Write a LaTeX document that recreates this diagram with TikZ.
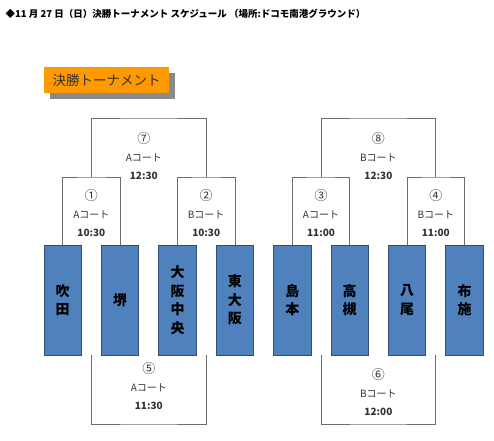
\documentclass[tikz,border=0pt]{standalone}
\usepackage{fontspec}
\setmainfont{Noto Sans CJK JP}
\usetikzlibrary{positioning, calc, shadows}

\definecolor{teamblue}{HTML}{4F81BD}
\definecolor{teamedge}{HTML}{2F4F75}
\definecolor{linegray}{HTML}{6E6E6E}
\definecolor{titleorange}{HTML}{FF9900}
\definecolor{shadowgray}{HTML}{8A8A8A}

\newcommand{\gameno}[1]{{\fontsize{13}{18}\selectfont #1}}

\begin{document}
\begin{tikzpicture}[
    x=1pt, y=1pt,
    team/.style={
        draw=teamedge,
        fill=teamblue,
        line width=0.7pt,
        minimum width=37.4pt,
        minimum height=110pt,
        inner sep=0pt,
        outer sep=0pt,
        align=center,
        font=\fontsize{14}{18.5}\selectfont\bfseries
    },
    bracket/.style={
        draw=linegray,
        line width=0.8pt
    },
    matchlabel/.style={
        align=center,
        inner sep=0pt,
        text=black!80,
        font=\fontsize{10}{18}\selectfont
    },
    titlebox/.style={
        fill=titleorange,
        minimum width=124.4pt,
        minimum height=26.6pt,
        inner sep=0pt,
        text=black!80,
        font=\fontsize{13.5}{16}\selectfont,
        drop shadow={shadow xshift=6pt, shadow yshift=-6pt, fill=shadowgray, opacity=1}
    }
]
    \useasboundingbox (0,0) rectangle (494,440);

    % Heading
    \node[anchor=west, inner sep=0pt, font=\fontsize{9.5}{11}\selectfont\bfseries] (heading) at (5.5,426)
        {◆11 月 27 日（日）決勝トーナメント スケジュール （場所:ドコモ南港グラウンド）};

    % Orange title
    \node[titlebox] (title) at (106.5,360) {決勝トーナメント};

    % Teams
    \node[team] (suita) at (62.7,140) {吹\\田};
    \node[team, right=20pt of suita] (sakai) {堺};
    \node[team, right=20pt of sakai] (osakachuo) {大\\阪\\中\\央};
    \node[team, right=20pt of osakachuo] (higashiosaka) {東\\大\\阪};
    \node[team, right=20pt of higashiosaka] (shimamoto) {島\\本};
    \node[team, right=20pt of shimamoto] (takatsuki) {高\\槻};
    \node[team, right=20pt of takatsuki] (yao) {八\\尾};
    \node[team, right=20pt of yao] (fuse) {布\\施};

    % First round (top)
    \coordinate (m1) at ($(suita.north)!0.5!(sakai.north)+(0,68)$);
    \coordinate (m2) at ($(osakachuo.north)!0.5!(higashiosaka.north)+(0,68)$);
    \coordinate (m3) at ($(shimamoto.north)!0.5!(takatsuki.north)+(0,68)$);
    \coordinate (m4) at ($(yao.north)!0.5!(fuse.north)+(0,68)$);
    \draw[bracket] (suita.north) |- (m1) -| (sakai.north);
    \draw[bracket] (osakachuo.north) |- (m2) -| (higashiosaka.north);
    \draw[bracket] (shimamoto.north) |- (m3) -| (takatsuki.north);
    \draw[bracket] (yao.north) |- (m4) -| (fuse.north);

    % Finals (top)
    \coordinate (m7) at ($(m1)!0.5!(m2)+(0,59)$);
    \coordinate (m8) at ($(m3)!0.5!(m4)+(0,59)$);
    \draw[bracket] (m1) |- (m7) -| (m2);
    \draw[bracket] (m3) |- (m8) -| (m4);

    % Bottom games, from the gaps
    \coordinate (g1) at ($(suita.south east)!0.5!(sakai.south west)$);
    \coordinate (g2) at ($(osakachuo.south east)!0.5!(higashiosaka.south west)$);
    \coordinate (g3) at ($(shimamoto.south east)!0.5!(takatsuki.south west)$);
    \coordinate (g4) at ($(yao.south east)!0.5!(fuse.south west)$);
    \coordinate (m5) at ($(g1)!0.5!(g2)+(0,-69)$);
    \coordinate (m6) at ($(g3)!0.5!(g4)+(0,-69)$);
    \draw[bracket] (g1) |- (m5) -| (g2);
    \draw[bracket] (g3) |- (m6) -| (g4);

    % Game labels
    \node[matchlabel] (lab1) at ($(m1)+(0,-36)$) {\gameno{①}\\Aコート\\\textbf{10:30}};
    \node[matchlabel] (lab2) at ($(m2)+(0,-36)$) {\gameno{②}\\Bコート\\\textbf{10:30}};
    \node[matchlabel] (lab3) at ($(m3)+(0,-36)$) {\gameno{③}\\Aコート\\\textbf{11:00}};
    \node[matchlabel] (lab4) at ($(m4)+(0,-36)$) {\gameno{④}\\Bコート\\\textbf{11:00}};
    \node[matchlabel] (lab7) at ($(m7)+(-5,-38)$) {\gameno{⑦}\\Aコート\\\textbf{12:30}};
    \node[matchlabel] (lab8) at ($(m8)+(0,-38)$) {\gameno{⑧}\\Bコート\\\textbf{12:30}};
    \node[matchlabel] (lab5) at ($(g1)!0.5!(g2)+(0,-31)$) {\gameno{⑤}\\Aコート\\\textbf{11:30}};
    \node[matchlabel] (lab6) at ($(g3)!0.5!(g4)+(0,-37)$) {\gameno{⑥}\\Bコート\\\textbf{12:00}};

\end{tikzpicture}
\end{document}
